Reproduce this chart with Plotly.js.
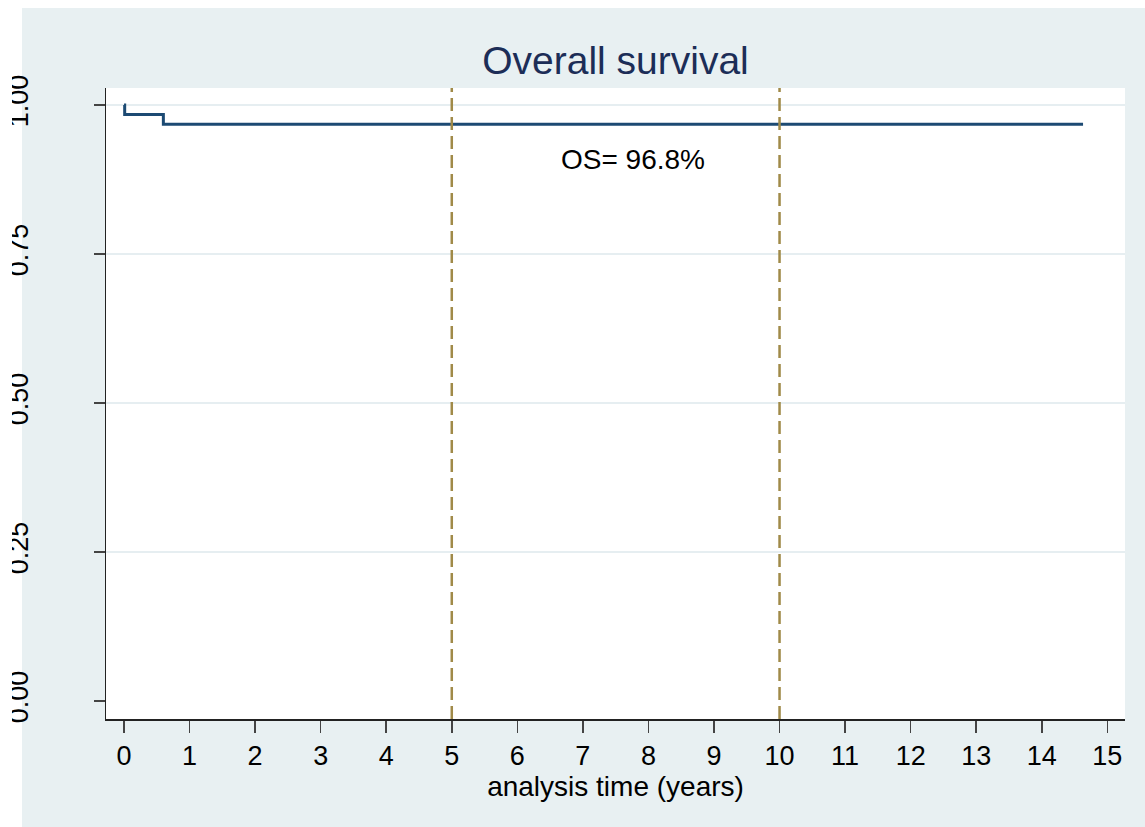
<!DOCTYPE html>
<html>
<head>
<meta charset="utf-8">
<script src="https://cdn.plot.ly/plotly-3.0.1.min.js"></script>
<style>
  html, body { margin: 0; padding: 0; background: #ffffff; width: 1145px; height: 827px; overflow: hidden; }
  #bgbox { position: absolute; left: 22px; top: 8px; width: 1123px; height: 819px; background: #e8f0f2; }
  #clip { position: absolute; left: 12px; top: 0; width: 1133px; height: 827px; overflow: hidden; }
  #chart { position: absolute; left: -12px; top: 0; width: 1145px; height: 827px; }
</style>
</head>
<body>
<div id="bgbox"></div>
<div id="clip"><div id="chart"></div></div>
<script>
// Kaplan-Meier overall survival (step function)
const timeYears = [0, 0.01, 0.60, 14.63];
const survival  = [1.0, 0.9839, 0.9677, 0.9677];

const xTickVals = [0,1,2,3,4,5,6,7,8,9,10,11,12,13,14,15];
const yTickVals = [0, 0.25, 0.5, 0.75, 1];
const yTickText = ["0.00", "0.25", "0.50", "0.75", "1.00"];
const gridVals  = [0.25, 0.5, 0.75, 1];
const refLines  = [5, 10];
const osLabel   = "OS= 96.8%";
const osLabelPos = [7.76, 0.908];

const FONT = "Liberation Sans, Arial, Helvetica, sans-serif";

const shapes = [];
gridVals.forEach(v => shapes.push({
  type: 'line', xref: 'paper', yref: 'y', x0: 0, x1: 1, y0: v, y1: v,
  line: {color: '#e6eef1', width: 2}, layer: 'below'
}));
refLines.forEach(v => shapes.push({
  type: 'line', xref: 'x', yref: 'paper', x0: v, x1: v, y0: 0, y1: 1,
  line: {color: '#a08a48', width: 2.5, dash: '13px,6px'}, layer: 'above'
}));

const trace = {
  x: timeYears, y: survival, type: 'scatter', mode: 'lines',
  line: {shape: 'hv', color: '#1c4a73', width: 3},
  hoverinfo: 'skip', showlegend: false
};

const layout = {
  width: 1145, height: 827,
  paper_bgcolor: 'rgba(0,0,0,0)',
  plot_bgcolor: '#ffffff',
  margin: {l: 106, r: 20, t: 88, b: 108, autoexpand: false},
  font: {family: FONT, color: '#000000', size: 27},
  title: {
    text: 'Overall survival',
    font: {family: FONT, size: 39, color: '#1c2d57'},
    xref: 'paper', x: 0.5, xanchor: 'center',
    yref: 'container', y: 1 - 60/827, yanchor: 'middle'
  },
  xaxis: {
    range: [-0.275, 15.27],
    tickmode: 'array', tickvals: xTickVals,
    ticks: 'outside', ticklen: 12, tickwidth: 1.5, tickcolor: '#444',
    showline: true, linecolor: '#222', linewidth: 1.5,
    showgrid: false, zeroline: false,
    tickfont: {family: FONT, size: 27, color: '#000'},
    title: {text: 'analysis time (years)', font: {family: FONT, size: 28, color: '#000'}, standoff: 2},
    automargin: false
  },
  yaxis: {
    range: [-0.030, 1.0285],
    tickmode: 'array', tickvals: yTickVals, ticktext: yTickText,
    tickangle: -90,
    ticks: 'outside', ticklen: 11, tickwidth: 1.5, tickcolor: '#444',
    ticklabelstandoff: 55,
    showline: true, linecolor: '#222', linewidth: 1.5,
    showgrid: false, zeroline: false,
    tickfont: {family: FONT, size: 27, color: '#000'},
    automargin: false
  },
  shapes: shapes,
  annotations: [{
    text: osLabel, x: osLabelPos[0], y: osLabelPos[1], xref: 'x', yref: 'y',
    showarrow: false, xanchor: 'center', yanchor: 'middle',
    font: {family: FONT, size: 28, color: '#000'}
  }]
};

Plotly.newPlot('chart', [trace], layout, {displayModeBar: false, staticPlot: true});
</script>
</body>
</html>
